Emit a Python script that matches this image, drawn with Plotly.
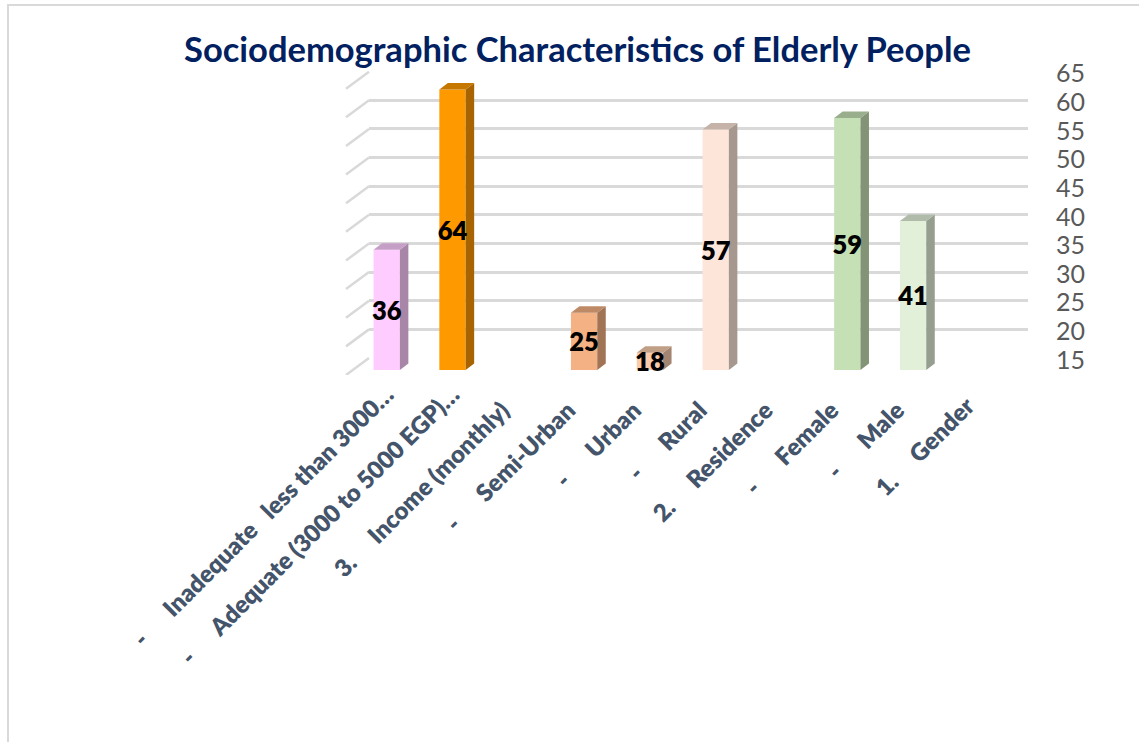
import plotly.graph_objects as go

W, H = 1139, 742

NB = "\u00a0"
categories = [
    "-" + NB * 6 + "Inadequate" + NB * 3 + "less than 3000…",
    "-" + NB * 6 + "Adequate (3000 to 5000 EGP)…",
    "3." + NB * 5 + "Income (monthly)" + NB * 4,
    "-" + NB * 6 + "Semi-Urban" + NB * 4,
    "-" + NB * 6 + "Urban" + NB * 4,
    "-" + NB * 6 + "Rural" + NB * 4,
    "2." + NB * 5 + "Residence" + NB * 4,
    "-" + NB * 6 + "Female" + NB * 4,
    "-" + NB * 6 + "Male" + NB * 4,
    "1." + NB * 5 + "Gender" + NB * 3,
]
values = [36, 64, None, 25, 18, 57, None, 59, 41, None]
front_colors = ["#FFCCFF", "#FF9900", "#FFFFFF", "#F4B183", "#F8CBAD", "#FDE6D9", "#FFFFFF", "#C5E0B4", "#E2F0D9", "#FFFFFF"]
y_ticks = [15, 20, 25, 30, 35, 40, 45, 50, 55, 60, 65]
title = "Sociodemographic Characteristics of Elderly People"

# pixel layout of the pseudo-3D box
PX_PER_UNIT = 5.727
PX_PER_CAT = 65.8
CAT0_PX = 386.7
FRONT_15_PX = 370.0     # baseline of bar fronts
BACK_15_PX = 358.0      # baseline on back wall
BACK_65_PX = BACK_15_PX - 50 * PX_PER_UNIT
BACK_L, BACK_R = 369.0, 1028.0
FLOOR_DX, FLOOR_DY = 23.0, 17.0
BAR_DX, BAR_DY = 8.5, 6.5
BAR_W = 0.40
LABEL_DROP_PX = 3.5

# front-plane axes pixel window
F_L, F_R = 340.0, 1020.0
F_TOP, F_BOT = 60.0, 375.0
def px2cat(px): return (px - CAT0_PX) / PX_PER_CAT
def py2val(py): return 15 + (FRONT_15_PX - py) / PX_PER_UNIT
dx = BAR_DX / PX_PER_CAT
dy = BAR_DY / PX_PER_UNIT

def shade(hex_color, k):
    r, g, b = int(hex_color[1:3], 16), int(hex_color[3:5], 16), int(hex_color[5:7], 16)
    return f"rgb({int(r*k)},{int(g*k)},{int(b*k)})"

fig = go.Figure()

# invisible trace that activates the back-wall axes
fig.add_trace(go.Scatter(x=[BACK_L, BACK_R], y=[15, 65], mode="none", xaxis="x", yaxis="y",
                         showlegend=False, hoverinfo="skip"))

# side-wall diagonals
wx, wy = [], []
for v in y_ticks:
    wv = v + (FRONT_15_PX - BACK_15_PX) / PX_PER_UNIT
    wx += [px2cat(BACK_L), px2cat(BACK_L - FLOOR_DX), None]
    wy += [wv, wv - FLOOR_DY / PX_PER_UNIT, None]
fig.add_trace(go.Scatter(x=wx, y=wy, mode="lines", line=dict(color="#D9D9D9", width=2.5),
                         xaxis="x2", yaxis="y2", showlegend=False, hoverinfo="skip"))

xs = list(range(len(categories)))
bx = [i for i, v in zip(xs, values) if v is not None]
bv = [v for v in values if v is not None]
bc = [c for c, v in zip(front_colors, values) if v is not None]

# bar fronts
fig.add_trace(go.Bar(x=bx, y=[v - 15 for v in bv], base=15, width=BAR_W,
                     marker=dict(color=bc, line=dict(width=0)), cliponaxis=False,
                     xaxis="x2", yaxis="y2", showlegend=False, hoverinfo="skip"))

# side and top faces
for i, v, c in zip(bx, bv, bc):
    r = i + BAR_W / 2
    l = i - BAR_W / 2
    fig.add_trace(go.Scatter(x=[r, r + dx, r + dx, r, r], y=[15, 15 + dy, v + dy, v, 15],
                             mode="lines", fill="toself", fillcolor=shade(c, 0.66), line=dict(width=0),
                             xaxis="x2", yaxis="y2", showlegend=False, hoverinfo="skip"))
    fig.add_trace(go.Scatter(x=[l, l + dx, r + dx, r, l], y=[v, v + dy, v + dy, v, v],
                             mode="lines", fill="toself", fillcolor=shade(c, 0.78), line=dict(width=0),
                             xaxis="x2", yaxis="y2", showlegend=False, hoverinfo="skip"))

# data labels
fig.add_trace(go.Scatter(x=bx, y=[(v + 15) / 2 - LABEL_DROP_PX / PX_PER_UNIT for v in bv], text=[str(v) for v in bv],
                         mode="text", textposition="middle center", cliponaxis=False,
                         textfont=dict(family="Lato", size=25.5, color="#000000", weight=800),
                         xaxis="x2", yaxis="y2", showlegend=False, hoverinfo="skip"))

fig.update_layout(
    width=W, height=H, margin=dict(l=0, r=0, t=0, b=0, autoexpand=False),
    paper_bgcolor="white", plot_bgcolor="rgba(0,0,0,0)", barmode="overlay",
    title=dict(text=f"<b>{title}</b>", x=577.5 / W, y=1 - 50 / H, xanchor="center", yanchor="middle",
               font=dict(family="Lato", size=34.5, color="#002060")),
    xaxis=dict(domain=[BACK_L / W, BACK_R / W], range=[BACK_L, BACK_R], visible=False, fixedrange=True),
    yaxis=dict(domain=[1 - BACK_15_PX / H, 1 - BACK_65_PX / H], range=[15, 65], side="right", anchor="x",
               tickvals=y_ticks, showgrid=True, gridcolor="#D9D9D9", gridwidth=2.5, zeroline=False,
               showline=False, ticks="outside", ticklen=22, tickcolor="rgba(0,0,0,0)", ticklabelshift=2,
               tickfont=dict(family="Lato", size=25, color="#595959"), fixedrange=True),
    xaxis2=dict(domain=[F_L / W, F_R / W], range=[px2cat(F_L), px2cat(F_R)], anchor="y2",
                tickmode="array", tickvals=xs, ticktext=categories, tickangle=-45, showgrid=False, zeroline=False,
                showline=False, ticks="", ticklabelstandoff=0,
                tickfont=dict(family="Lato", size=24, color="#44546A", weight=800), fixedrange=True),
    yaxis2=dict(domain=[1 - F_BOT / H, 1 - F_TOP / H], range=[py2val(F_BOT), py2val(F_TOP)],
                anchor="x2", visible=False, showgrid=False, zeroline=False, fixedrange=True),
    shapes=[
        dict(type="line", xref="paper", yref="paper", x0=8 / W, x1=8 / W, y0=0, y1=1 - 5 / H,
             line=dict(color="#D9D9D9", width=2)),
        dict(type="line", xref="paper", yref="paper", x0=7 / W, x1=1, y0=1 - 5 / H, y1=1 - 5 / H,
             line=dict(color="#D9D9D9", width=2)),
    ],
)

fig.write_html("out.html", post_script="document.body.style.margin='0';document.body.style.overflow='hidden';",
               config={"displayModeBar": False})
